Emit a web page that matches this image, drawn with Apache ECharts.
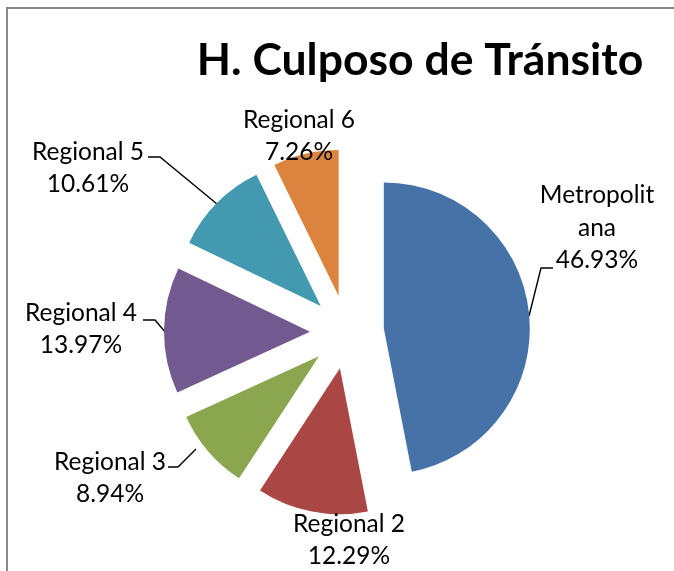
<!DOCTYPE html>
<html>
<head>
<meta charset="utf-8">
<script src="https://cdn.jsdelivr.net/npm/echarts@6/dist/echarts.min.js"></script>
<style>
  html, body { margin: 0; padding: 0; background: #ffffff; }
  #chart { width: 674px; height: 571px; }
</style>
</head>
<body>
<div id="chart"></div>
<script>
// Share of cases per region (percent)
const categories = ['Metropolitana', 'Regional 2', 'Regional 3', 'Regional 4', 'Regional 5', 'Regional 6'];
const shares = [46.93, 12.29, 8.94, 13.97, 10.61, 7.26];
const sliceColors = ['#4672A7', '#AA4744', '#8AA64F', '#72598F', '#4399AF', '#DB843D'];

// Where each label sits (text centre) and the bends of its leader line, in chart pixels
const labelSpots = [
  { x: 597, y: 228, line: [[529, 316], [541, 268], [553, 268]] },
  { x: 349, y: 540, line: null },
  { x: 110, y: 478, line: [[196, 449], [178, 467], [168, 467]] },
  { x: 81,  y: 329, line: [[166, 333], [155, 320], [143, 320]] },
  { x: 88,  y: 168, line: [[217, 204], [160, 157], [148, 157]] },
  { x: 299, y: 136, line: null }
];

// Pie geometry
const pieCenter = [347, 332];
const pieRadius = 146;
const explode = 37;

const total = shares.reduce((a, b) => a + b, 0);

// One pie series per slice: every series carries the full data so the angles agree,
// only its own slice is painted, and its centre is pushed out along the slice's mid angle.
let before = 0;
const series = shares.map((share, k) => {
  const midDeg = 360 * (before + share / 2) / total;
  before += share;
  const rad = midDeg * Math.PI / 180;
  const cx = pieCenter[0] + explode * Math.sin(rad);
  const cy = pieCenter[1] - explode * Math.cos(rad);
  return {
    type: 'pie',
    center: [cx, cy],
    radius: pieRadius,
    startAngle: 90,
    clockwise: true,
    avoidLabelOverlap: false,
    silent: true,
    emphasis: { disabled: true },
    itemStyle: { borderWidth: 0 },
    label: {
      show: true,
      position: 'outside',
      formatter: p => p.name + '\n' + p.value.toFixed(2) + '%',
      fontFamily: 'Lato',
      fontSize: 24.5,
      lineHeight: 32.5,
      color: '#000000',
      align: 'center'
    },
    labelLine: { show: true, lineStyle: { color: '#000000', width: 1.4 } },
    labelLayout: p => {
      if (p.dataIndex !== k) return {};
      const spot = labelSpots[k];
      const out = { x: spot.x, y: spot.y, align: 'center', verticalAlign: 'middle' };
      if (spot.line) out.labelLinePoints = spot.line;
      return out;
    },
    data: categories.map((name, i) => ({
      name: name,
      value: shares[i],
      itemStyle: i === k ? { color: sliceColors[i] } : { color: 'rgba(0,0,0,0)' },
      label: i === k ? (i === 0 ? { width: 124, overflow: 'breakAll' } : {}) : { show: false },
      labelLine: { show: i === k && labelSpots[i].line !== null }
    }))
  };
});

const chart = echarts.init(document.getElementById('chart'), null, { renderer: 'canvas' });

chart.setOption({
  animation: false,
  backgroundColor: '#ffffff',
  title: {
    text: 'H. Culposo de Tránsito',
    left: 415,
    top: 33,
    textAlign: 'center',
    textStyle: { fontFamily: 'Lato', fontWeight: 'bold', fontSize: 44.5, color: '#000000' }
  },
  graphic: [{
    type: 'rect',
    silent: true,
    shape: { x: 7, y: 8, width: 720, height: 620 },
    style: { fill: 'none', stroke: '#8a8a8a', lineWidth: 2 }
  }],
  series: series
});
</script>
</body>
</html>
